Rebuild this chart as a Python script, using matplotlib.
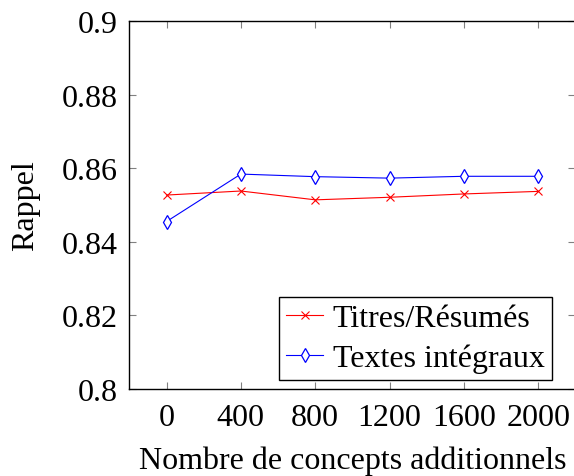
import matplotlib
matplotlib.use("Agg")
import matplotlib.pyplot as plt

plt.rcParams['font.family'] = ['Liberation Serif', 'DejaVu Serif']
plt.rcParams['mathtext.fontset'] = 'stix'

concepts = [0, 400, 800, 1200, 1600, 2000]
titres_resumes = [0.8527, 0.8538, 0.8514, 0.8521, 0.8530, 0.8537]
textes_integraux = [0.8455, 0.8584, 0.8577, 0.8573, 0.8578, 0.8578]
yticks = [0.8, 0.82, 0.84, 0.86, 0.88, 0.9]
ytick_labels = ['0.8', '0.82', '0.84', '0.86', '0.88', '0.9']

FS = 23

fig = plt.figure(figsize=(5.74, 4.77), dpi=100)
ax = fig.add_axes([0.2253, 0.1824, 0.7773, 0.7715])

ax.plot(concepts, titres_resumes, color='red', lw=0.8, marker='x',
        markersize=6, markeredgewidth=0.8, label='Titres/Résumés')
ax.plot(concepts, textes_integraux, color='blue', lw=0.8, marker='d',
        markersize=7.5, markerfacecolor='white', markeredgewidth=0.9,
        label='Textes intégraux')

ax.set_xlim(-200, 2200)
ax.set_ylim(0.8, 0.9)
ax.set_xticks(concepts)
ax.set_yticks(yticks)
ax.set_yticklabels(ytick_labels)
ax.tick_params(direction='in', length=5, width=0.8, color='#808080',
               labelsize=FS, top=True, right=True, pad=8)
ax.tick_params(axis='x', pad=10)
for sp in ax.spines.values():
    sp.set_linewidth(1.0)

ax.set_xlabel('Nombre de concepts additionnels', fontsize=FS, labelpad=10)
ax.set_ylabel('Rappel', fontsize=FS, labelpad=16)

leg = ax.legend(loc='lower right', fontsize=FS, fancybox=False,
                edgecolor='black', framealpha=1, borderpad=0.22,
                handlelength=1.15, handletextpad=0.3, labelspacing=0.33,
                borderaxespad=0.275, bbox_to_anchor=(0.966, 0.0))
leg.get_frame().set_linewidth(1.0)

fig.savefig('out.png', dpi=100)
